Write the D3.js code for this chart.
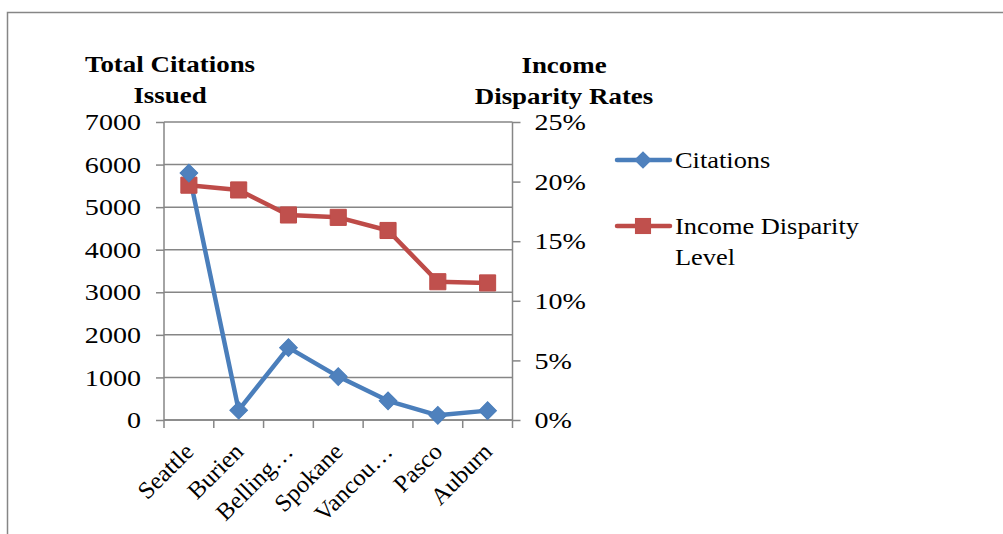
<!DOCTYPE html>
<html><head><meta charset="utf-8">
<script src="https://cdn.jsdelivr.net/npm/d3@7"></script>
<style>
html,body{margin:0;padding:0;background:#fff;}
svg{display:block;}
text{font-family:"Liberation Serif","Times New Roman",serif;fill:#000;}
</style></head>
<body><svg id="c" width="1003" height="534"></svg>
<script>
const categories = ["Seattle","Burien","Belling…","Spokane","Vancou…","Pasco","Auburn"];
const citations = [5800, 230, 1700, 1020, 450, 110, 220];
const incomeDisparity = [0.197, 0.193, 0.172, 0.170, 0.159, 0.116, 0.115];
const leftTicks = [0,1000,2000,3000,4000,5000,6000,7000];
const rightTicks = [0,0.05,0.10,0.15,0.20,0.25];
const seriesNames = ["Citations","Income Disparity Level"];

const svg = d3.select("#c");
const grey = "#868686";
const blue = "#4A7EBB", blueFill = "#4F81BD";
const red = "#BE4B48", redFill = "#C0504D";
const SX = 1.17;

// chart border
svg.append("rect").attr("x",7.5).attr("y",12.5).attr("width",1100).attr("height",600)
  .attr("fill","none").attr("stroke",grey).attr("stroke-width",1.5);

const L=164, R=512.5, T=122, B=420;
const x = d3.scaleBand().domain(categories).range([L,R]);
const yL = d3.scaleLinear().domain([0,7000]).range([B,T]);
const yR = d3.scaleLinear().domain([0,0.25]).range([B,T]);

// gridlines
svg.append("g").selectAll("line").data(leftTicks).join("line")
  .attr("x1",L).attr("x2",R).attr("y1",d=>yL(d)).attr("y2",d=>yL(d))
  .attr("stroke",grey).attr("stroke-width",1.5);

const gL = svg.append("g").attr("transform",`translate(${L},0)`)
  .call(d3.axisLeft(yL).tickValues(leftTicks).tickSize(8).tickPadding(15).tickFormat(d3.format("d")));
const gR = svg.append("g").attr("transform",`translate(${R},0)`)
  .call(d3.axisRight(yR).tickValues(rightTicks).tickSize(8).tickPadding(14).tickFormat(d3.format(".0%")));
const gB = svg.append("g").attr("transform",`translate(0,${B})`)
  .call(d3.axisBottom(x).tickSize(0).tickPadding(0));
const bounds = categories.map(c=>x(c)).concat([R]);
svg.append("g").selectAll("line").data(bounds).join("line")
  .attr("x1",d=>d).attr("x2",d=>d).attr("y1",B).attr("y2",B+8)
  .attr("stroke",grey).attr("stroke-width",1.5);

[gL,gR,gB].forEach(g=>{
  g.select(".domain").attr("stroke",grey).attr("stroke-width",1.5);
  g.selectAll(".tick line").attr("stroke",grey).attr("stroke-width",1.5);
  g.selectAll(".tick text").attr("font-family","Liberation Serif").attr("font-size",24).attr("fill","#000");
});
gL.select(".domain").attr("d",`M0,${T}V${B}`);
gR.select(".domain").attr("d",`M0,${T}V${B}`);
gB.select(".domain").attr("d",`M${L},0H${R}`);
gL.selectAll(".tick text").attr("x",0).attr("transform",`translate(-23,0) scale(${SX},1)`);
gR.selectAll(".tick text").attr("x",0).attr("transform",`translate(22,0) scale(${SX},1)`);
gB.selectAll(".tick text")
  .attr("text-anchor","end").attr("dy",0).attr("y",0)
  .attr("transform","translate(6,33) rotate(-45) scale(1.03,1)");

const cx = (i)=>x(categories[i])+x.bandwidth()/2;
const lineC = d3.line().x((d,i)=>cx(i)).y(d=>yL(d));
const lineI = d3.line().x((d,i)=>cx(i)).y(d=>yR(d));
svg.append("path").datum(citations).attr("d",lineC).attr("fill","none")
  .attr("stroke",blue).attr("stroke-width",4.5).attr("stroke-linejoin","round");
svg.append("path").datum(incomeDisparity).attr("d",lineI).attr("fill","none")
  .attr("stroke",red).attr("stroke-width",4.5).attr("stroke-linejoin","round");

const square = d3.symbol().type(d3.symbolSquare2).size(330);
const diamond = d3.symbol().type(d3.symbolSquare2).size(200);
svg.append("g").selectAll("path").data(incomeDisparity).join("path")
  .attr("d",square).attr("transform",(d,i)=>`translate(${cx(i)},${yR(d)})`)
  .attr("fill",redFill).attr("stroke",red).attr("stroke-width",1);
svg.append("g").selectAll("path").data(citations).join("path")
  .attr("d",diamond).attr("transform",(d,i)=>`translate(${cx(i)},${yL(d)}) rotate(45)`)
  .attr("fill",blueFill).attr("stroke",blue).attr("stroke-width",1);

// axis titles
function title(cxp, lines, y0){
  lines.forEach((s,i)=>{
    svg.append("text").attr("text-anchor","middle").attr("font-weight","bold").attr("font-size",23)
      .attr("transform",`translate(${cxp},${y0+i*31}) scale(${SX},1)`).text(s);
  });
}
title(170, ["Total Citations","Issued"], 72);
title(564, ["Income","Disparity Rates"], 73);

// legend
const LS = 1.10;
const ly = [160, 226];
const lg = svg.append("g");
lg.selectAll("line").data(ly).join("line")
  .attr("x1",617).attr("x2",670).attr("y1",d=>d).attr("y2",d=>d)
  .attr("stroke",(d,i)=>i?red:blue).attr("stroke-width",4.5).attr("stroke-linecap","round");
lg.append("path").attr("d",diamond).attr("transform",`translate(643,${ly[0]}) rotate(45)`).attr("fill",blueFill);
lg.append("path").attr("d",square).attr("transform",`translate(643,${ly[1]})`).attr("fill",redFill);
function ltext(s, y){
  lg.append("text").attr("font-size",24).attr("transform",`translate(675,${y}) scale(${LS},1)`).text(s);
}
ltext(seriesNames[0], ly[0]+8);
ltext("Income Disparity", ly[1]+8);
ltext("Level", ly[1]+39);
</script></body></html>
